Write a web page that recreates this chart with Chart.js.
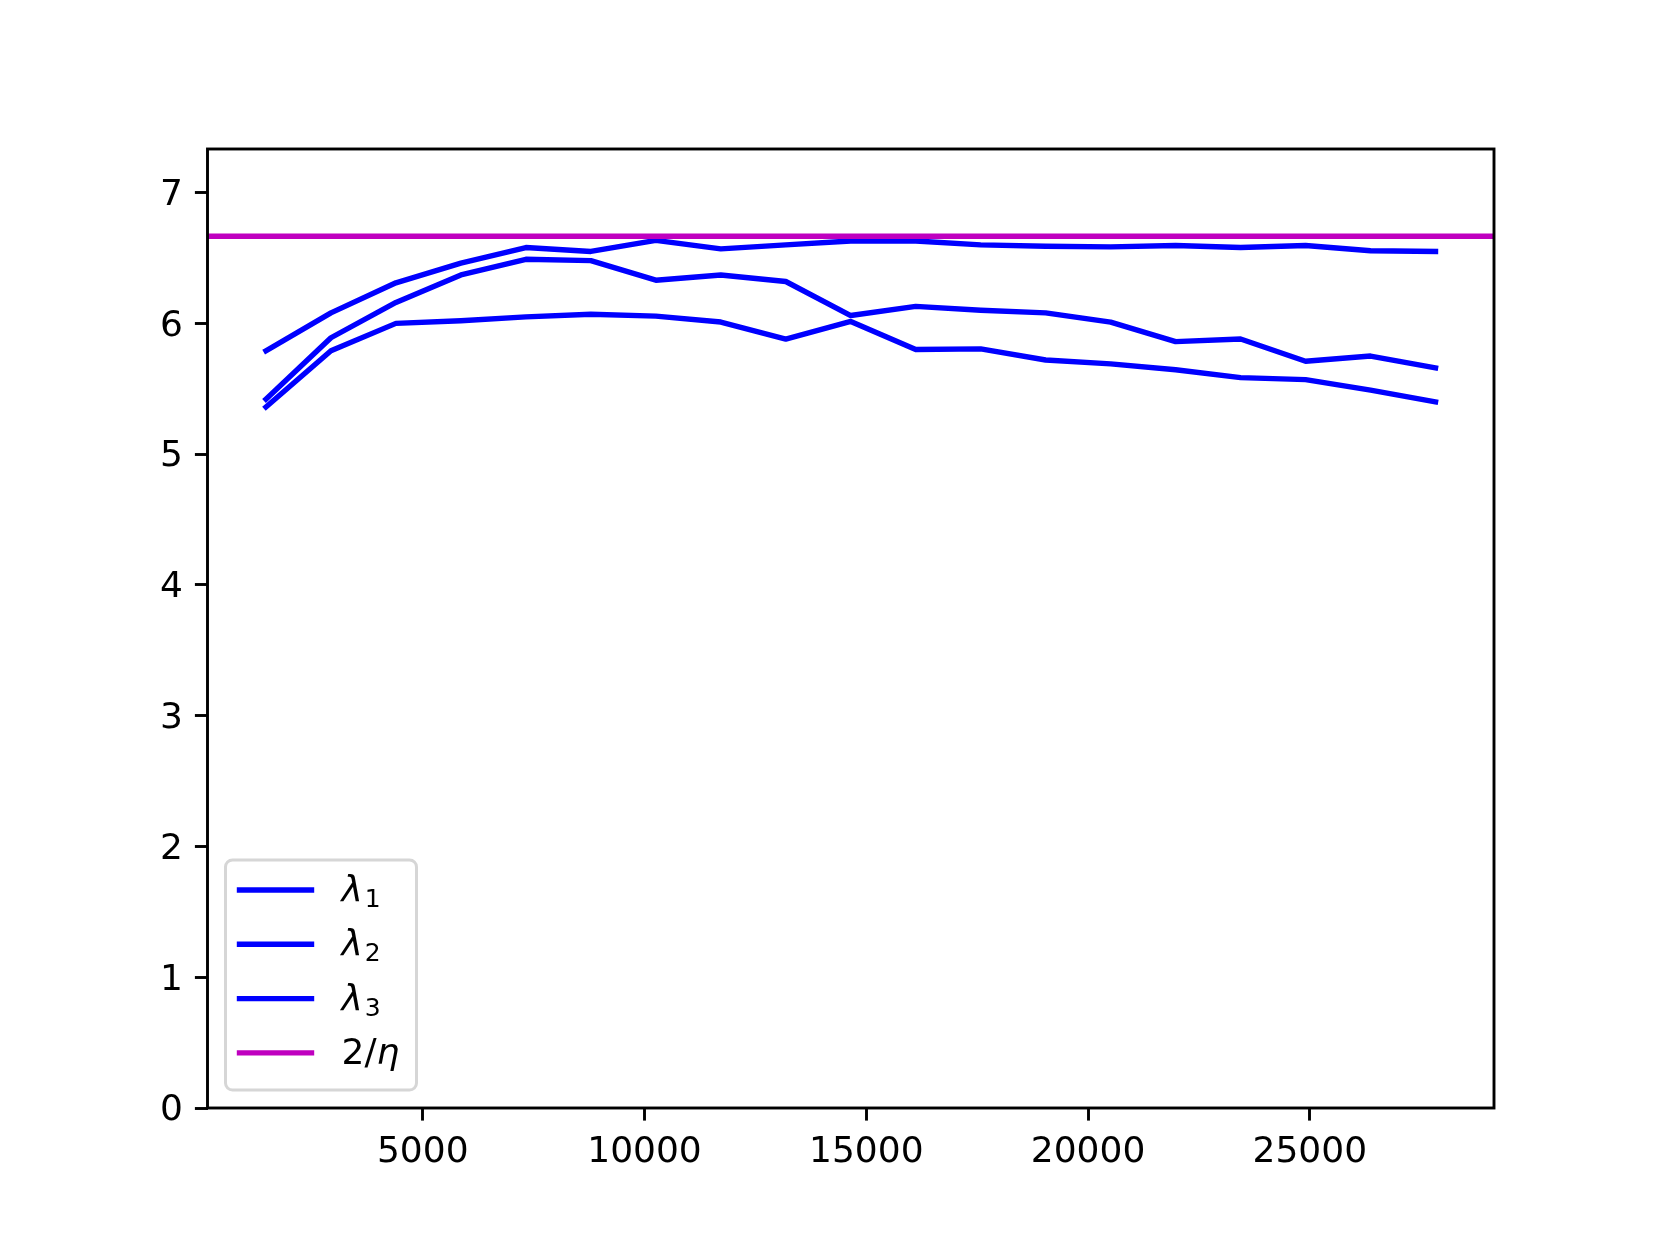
<!DOCTYPE html>
<html>
<head>
<meta charset="utf-8">
<script src="https://cdn.jsdelivr.net/npm/chart.js@4"></script>
<style>
  body { margin: 0; background: #fff; }
  canvas { display: block; }
</style>
</head>
<body>
<canvas id="lambdaChart" width="1660" height="1245"></canvas>
<script>
// data
const steps = [1465, 2930, 4395, 5860, 7325, 8790, 10255, 11720, 13185, 14650,
  16115, 17580, 19045, 20510, 21975, 23440, 24905, 26370, 27835];
const lambda1 = [5.79, 6.08, 6.31, 6.46, 6.58, 6.55, 6.635, 6.57, 6.60, 6.63,
  6.63, 6.60, 6.59, 6.585, 6.595, 6.58, 6.595, 6.555, 6.55];
const lambda2 = [5.42, 5.89, 6.16, 6.37, 6.49, 6.48, 6.33, 6.37, 6.32, 6.06,
  6.13, 6.10, 6.08, 6.01, 5.86, 5.88, 5.71, 5.75, 5.66];
const lambda3 = [5.36, 5.79, 6.00, 6.02, 6.05, 6.07, 6.055, 6.01, 5.88, 6.015,
  5.80, 5.805, 5.72, 5.69, 5.645, 5.585, 5.57, 5.49, 5.40];
const eta = 0.3;
const twoOverEta = [2 / eta];
const xTicks = [5000, 10000, 15000, 20000, 25000];
const yTicks = [0, 1, 2, 3, 4, 5, 6, 7];
const legendNames = [["λ", "1"], ["λ", "2"], ["λ", "3"], ["2/", "η"]];

// matplotlib style 5% margins on x
const xSpan = steps[steps.length - 1] - steps[0];
const xMin = steps[0] - 0.05 * xSpan;
const xMax = steps[steps.length - 1] + 0.05 * xSpan;

const BLUE = "#0000ff";
const MAGENTA = "#bf00bf";
const LW = 5.4;
const FONT = "DejaVu Sans";

function series(ys) {
  return steps.map((s, i) => ({ x: s, y: ys[i] }));
}

// box round the axes + matplotlib like legend
const frameAndLegend = {
  id: "frameAndLegend",
  afterDraw(chart) {
    const { ctx, chartArea: a } = chart;
    ctx.save();
    ctx.strokeStyle = "#000";
    ctx.lineWidth = 2.9;
    ctx.strokeRect(a.left, a.top, a.right - a.left, a.bottom - a.top);

    // legend box, lower left
    const bx = a.left + 18, by = a.bottom - 18 - 230, bw = 191, bh = 230;
    ctx.beginPath();
    ctx.roundRect(bx, by, bw, bh, 7);
    ctx.fillStyle = "rgba(255,255,255,0.8)";
    ctx.fill();
    ctx.strokeStyle = "#d6d6d6";
    ctx.lineWidth = 3;
    ctx.stroke();

    chart.data.datasets.forEach((ds, i) => {
      const cy = by + 30 + i * 54.3;
      ctx.beginPath();
      ctx.strokeStyle = ds.borderColor;
      ctx.lineWidth = LW;
      ctx.lineCap = "square";
      ctx.moveTo(bx + 14, cy);
      ctx.lineTo(bx + 86, cy);
      ctx.stroke();

      ctx.fillStyle = "#000";
      ctx.textBaseline = "alphabetic";
      ctx.textAlign = "left";
      const [main, sub] = legendNames[i];
      const tx = bx + 116;
      if (i < 3) {
        ctx.font = "italic 36px " + FONT;
        ctx.fillText(main, tx, cy + 11);
        const w = ctx.measureText(main).width;
        ctx.font = "25px " + FONT;
        ctx.fillText(sub, tx + w + 2, cy + 17);
      } else {
        ctx.font = "36px " + FONT;
        ctx.fillText(main, tx, cy + 11);
        const w = ctx.measureText(main).width;
        ctx.font = "italic 36px " + FONT;
        ctx.fillText(sub, tx + w, cy + 11);
      }
    });
    ctx.restore();
  },
};

const ctx = document.getElementById("lambdaChart").getContext("2d");

const lambdaChart = new Chart(ctx, {
  type: "line",
  data: {
    datasets: [
      { label: "λ1", data: series(lambda1), borderColor: BLUE, order: 1 },
      { label: "λ2", data: series(lambda2), borderColor: BLUE, order: 1 },
      { label: "λ3", data: series(lambda3), borderColor: BLUE, order: 1 },
      {
        label: "2/η",
        data: [{ x: xMin, y: twoOverEta[0] }, { x: xMax, y: twoOverEta[0] }],
        borderColor: MAGENTA,
        order: 0,
      },
    ],
  },
  options: {
    responsive: false,
    devicePixelRatio: 1,
    animation: false,
    layout: { padding: { left: 0, right: 166, top: 149, bottom: 0 } },
    elements: {
      point: { radius: 0 },
      line: {
        borderWidth: LW,
        tension: 0,
        fill: false,
        borderCapStyle: "square",
        borderJoinStyle: "round",
      },
    },
    scales: {
      x: {
        type: "linear",
        min: xMin,
        max: xMax,
        afterBuildTicks(scale) {
          scale.ticks = xTicks.map((v) => ({ value: v }));
        },
        afterFit(scale) {
          scale.height = 137;
        },
        grid: {
          drawOnChartArea: false,
          drawTicks: true,
          tickLength: 12.6,
          tickColor: "#000",
          tickWidth: 2.9,
        },
        border: { display: false },
        ticks: {
          color: "#000",
          padding: 10,
          maxRotation: 0,
          font: { family: FONT, size: 36 },
          callback: (v) => String(v),
        },
      },
      y: {
        type: "linear",
        min: 0,
        max: 1.1 * twoOverEta[0],
        afterBuildTicks(scale) {
          scale.ticks = yTicks.map((v) => ({ value: v }));
        },
        afterFit(scale) {
          scale.width = 207.5;
        },
        grid: {
          drawOnChartArea: false,
          drawTicks: true,
          tickLength: 12.6,
          tickColor: "#000",
          tickWidth: 2.9,
        },
        border: { display: false },
        ticks: {
          color: "#000",
          padding: 12,
          labelOffset: 3,
          font: { family: FONT, size: 36 },
          callback: (v) => String(v),
        },
      },
    },
    plugins: {
      legend: { display: false },
      tooltip: { enabled: false },
    },
  },
  plugins: [frameAndLegend],
});
</script>
</body>
</html>
